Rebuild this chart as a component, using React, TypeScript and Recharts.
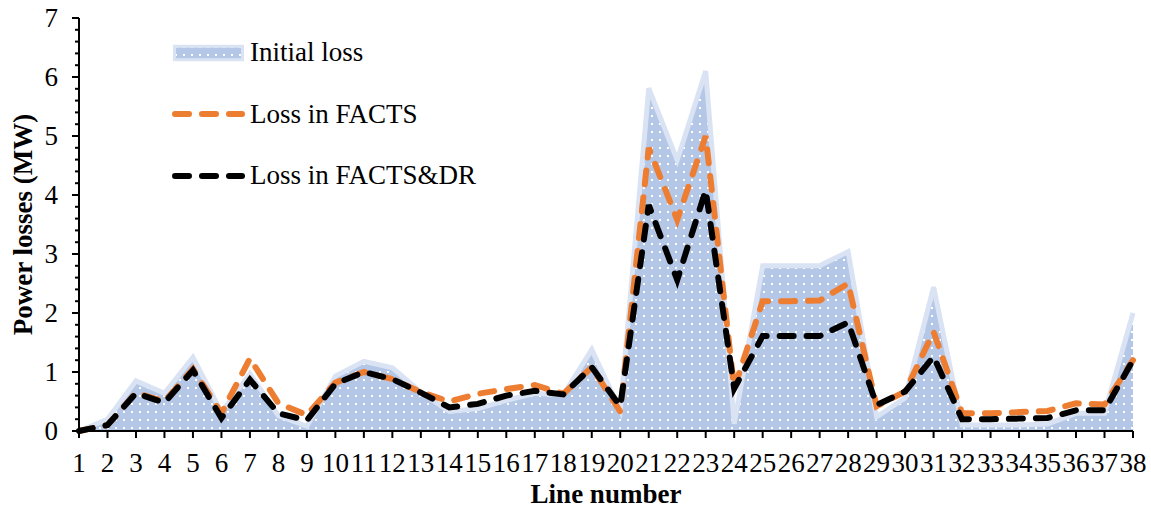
import React from "react";
import { Area, ComposedChart, Label, Legend, Line, XAxis, YAxis } from "recharts";

const FONT = "'Liberation Serif', 'Times New Roman', serif";

const lineNumbers = [
  1, 2, 3, 4, 5, 6, 7, 8, 9, 10, 11, 12, 13, 14, 15, 16, 17, 18, 19,
  20, 21, 22, 23, 24, 25, 26, 27, 28, 29, 30, 31, 32, 33, 34, 35, 36, 37, 38,
];

const initialLoss = [
  0, 0.2, 0.85, 0.64, 1.25, 0.32, 0.97, 0.26, 0.08, 0.93, 1.18, 1.07, 0.66, 0.33,
  0.38, 0.52, 0.64, 0.61, 1.38, 0.35, 5.81, 4.59, 6.1, 0.12, 2.8, 2.8, 2.8, 3.04,
  0.24, 0.56, 2.44, 0.1, 0.1, 0.1, 0.12, 0.3, 0.3, 2.0,
];

const factsLoss = [
  0, 0.1, 0.65, 0.5, 1.05, 0.3, 1.23, 0.47, 0.27, 0.82, 1.0, 0.88, 0.66, 0.5,
  0.63, 0.71, 0.78, 0.63, 1.08, 0.33, 4.8, 3.58, 5.0, 0.72, 2.2, 2.2, 2.21, 2.5,
  0.42, 0.67, 1.68, 0.3, 0.3, 0.32, 0.34, 0.47, 0.45, 1.2,
];

const factsDrLoss = [
  0, 0.1, 0.64, 0.48, 1.03, 0.22, 0.87, 0.3, 0.18, 0.8, 1.0, 0.88, 0.65, 0.4,
  0.46, 0.6, 0.68, 0.62, 1.08, 0.42, 3.83, 2.56, 4.08, 0.72, 1.61, 1.61, 1.61, 1.84,
  0.44, 0.67, 1.26, 0.2, 0.2, 0.21, 0.22, 0.35, 0.35, 1.2,
];

const seriesNames = ["Initial loss", "Loss in FACTS", "Loss in FACTS&DR"];

const data = lineNumbers.map((line, i) => ({
  line,
  initial: initialLoss[i],
  facts: factsLoss[i],
  factsDr: factsDrLoss[i],
}));

// major ticks every 1 MW, minor every 0.2 MW
const yTicks = Array.from({ length: 36 }, (_, i) => i / 5);

const TICK_SIZE = 7;
const TICK_MARGIN = 14;
const DASH = "14 13";
const TEXT_SIZE = 27;

function YTick(props: any) {
  const { x, y, payload } = props;
  const v = payload.value;
  const major = Math.abs(v - Math.round(v)) < 1e-6;
  const axisX = x + TICK_SIZE + TICK_MARGIN;
  return (
    <g>
      <line x1={axisX - (major ? 7 : 4)} x2={axisX} y1={y} y2={y} stroke="#000" strokeWidth={2} />
      {major && (
        <text x={x} y={y} dy="0.35em" textAnchor="end" fill="#000" fontSize={TEXT_SIZE} fontFamily={FONT}>
          {Math.round(v)}
        </text>
      )}
    </g>
  );
}

function LegendContent({ payload }: any) {
  return (
    <div style={{ fontFamily: FONT, fontSize: TEXT_SIZE, color: "#000" }}>
      {(payload || []).map((entry: any) => (
        <div key={entry.value} style={{ display: "flex", alignItems: "center", height: 61.5 }}>
          <svg width={78} height={20} style={{ display: "block" }}>
            {entry.type === "rect" ? (
              <rect x={2.5} y={3.3} width={68} height={13.4} fill="url(#dots)" stroke="#DAE3F3" strokeWidth={3} />
            ) : (
              <line
                x1={3}
                x2={70}
                y1={10}
                y2={10}
                stroke={entry.color}
                strokeWidth={6}
                strokeDasharray={DASH}
                strokeLinecap="round"
              />
            )}
          </svg>
          <span style={{ lineHeight: 1 }}>{entry.value}</span>
        </div>
      ))}
    </div>
  );
}

export default function App() {
  return (
    <div style={{ position: "absolute", left: 0, top: 0, background: "#fff" }}>
      <ComposedChart width={1151} height={508} data={data} margin={{ top: 18, right: 18, bottom: 0, left: 0 }}>
        <defs>
          <pattern id="dots" width={8} height={8} patternUnits="userSpaceOnUse">
            <rect width={8} height={8} fill="#B4C7E7" />
            <rect x={3} y={3} width={2} height={2} fill="#fff" />
          </pattern>
        </defs>
        <XAxis
          type="number"
          dataKey="line"
          domain={[1, 38]}
          ticks={lineNumbers}
          interval={0}
          height={77}
          tickSize={7}
          tickMargin={15}
          axisLine={{ stroke: "#000", strokeWidth: 2 }}
          tickLine={{ stroke: "#000", strokeWidth: 2 }}
          tick={{ fill: "#000", fontSize: TEXT_SIZE, fontFamily: FONT }}
        >
          <Label
            value="Line number"
            position="insideBottom"
            offset={5}
            style={{ fill: "#000", fontSize: TEXT_SIZE, fontWeight: "bold", fontFamily: FONT }}
          />
        </XAxis>
        <YAxis
          type="number"
          domain={[0, 7]}
          ticks={yTicks}
          interval={0}
          width={79}
          tickSize={TICK_SIZE}
          tickMargin={TICK_MARGIN}
          tickLine={false}
          axisLine={{ stroke: "#000", strokeWidth: 2 }}
          tick={<YTick />}
        >
          <Label
            value="Power losses (MW)"
            position="insideLeft"
            angle={-90}
            offset={22}
            style={{ fill: "#000", fontSize: TEXT_SIZE, fontWeight: "bold", fontFamily: FONT, textAnchor: "middle" }}
          />
        </YAxis>
        <Legend
          layout="vertical"
          align="center"
          verticalAlign="middle"
          wrapperStyle={{ left: 172, top: 22, width: "auto" }}
          content={<LegendContent />}
        />
        <Area
          type="linear"
          dataKey="initial"
          name={seriesNames[0]}
          legendType="rect"
          stroke="#DAE3F3"
          strokeWidth={5}
          fill="url(#dots)"
          fillOpacity={1}
          isAnimationActive={false}
        />
        <Line
          type="linear"
          dataKey="facts"
          name={seriesNames[1]}
          legendType="line"
          stroke="#ED7D31"
          strokeWidth={6}
          strokeDasharray={DASH}
          strokeLinecap="round"
          dot={false}
          activeDot={false}
          isAnimationActive={false}
        />
        <Line
          type="linear"
          dataKey="factsDr"
          name={seriesNames[2]}
          legendType="line"
          stroke="#000"
          strokeWidth={6}
          strokeDasharray={DASH}
          strokeLinecap="round"
          dot={false}
          activeDot={false}
          isAnimationActive={false}
        />
      </ComposedChart>
    </div>
  );
}
